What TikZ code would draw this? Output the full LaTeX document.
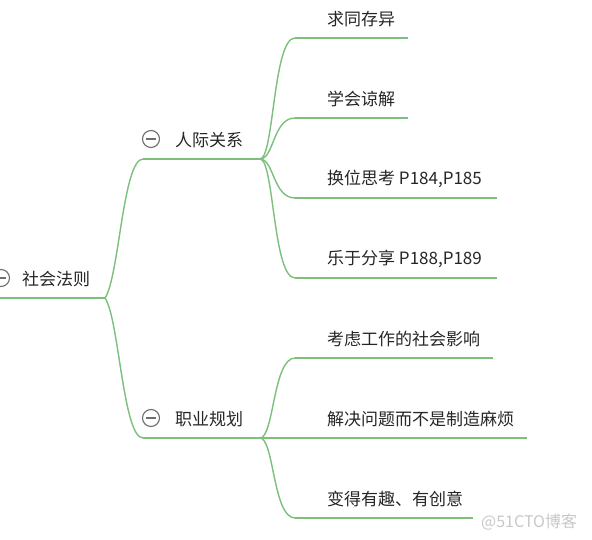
\documentclass[tikz,border=0pt]{standalone}
\usepackage{fontspec}
\setmainfont{Noto Sans CJK SC}
\definecolor{branch}{RGB}{124,192,124}
\definecolor{icon}{RGB}{110,110,110}
\definecolor{wm}{RGB}{200,200,200}
\tikzset{
  topic/.style={anchor=west,inner sep=0pt,font=\fontsize{17}{19}\selectfont,text=black!85},
  uline/.style={draw=branch,line width=1.4pt},
  conn/.style={draw=branch,line width=1.4pt},
  fold/.style={circle,draw=icon,line width=1.1pt,minimum size=17pt,inner sep=0pt,
    path picture={\draw[icon,line width=1.1pt] ([xshift=-5pt]path picture bounding box.center) -- ([xshift=5pt]path picture bounding box.center);}},
}
\begin{document}
\begin{tikzpicture}[x=1pt,y=-1pt]
\useasboundingbox[fill=white] (0,0) rectangle (592,540);
% root
\node[fold] (rooticon) at (1,278) {};
\node[topic] (root) at (22,279) {社会法则};
\coordinate (root-s) at (0,298);
\coordinate (root-e) at (105,298);
\draw[uline] (root-s) -- (root-e);
% level 1
\node[fold] (aicon) at (151,139) {};
\node[topic] (a) at (175,140) {人际关系};
\coordinate (a-s) at (143,159);
\coordinate (a-e) at (260,159);
\draw[uline] (a-s) -- (a-e);
\node[fold] (bicon) at (151,418) {};
\node[topic] (b) at (175,419) {职业规划};
\coordinate (b-s) at (143,438);
\coordinate (b-e) at (260,438);
\draw[uline] (b-s) -- (b-e);
\draw[conn] (root-e) .. controls +(14,-20) and +(-20,0) .. (a-s);
\draw[conn] (root-e) .. controls +(14,20) and +(-20,0) .. (b-s);
% children of a
\foreach \n/\y/\e/\t in {a1/38/408/求同存异, a2/118/408/学会谅解, a3/198/497/{换位思考 P184,P185}, a4/278/497/{乐于分享 P188,P189}}{
  \node[topic] (\n) at (327,\y-19) {\t};
  \coordinate (\n-s) at (295,\y);
  \coordinate (\n-e) at (\e,\y);
  \draw[uline] (\n-s) -- (\n-e);
  \draw[conn] (a-e) .. controls +(14,0) and +(-22,0) .. (\n-s);
}
% children of b
\foreach \n/\y/\e/\t in {b1/358/493/考虑工作的社会影响, b2/438/527/解决问题而不是制造麻烦, b3/518/473/{变得有趣、有创意}}{
  \node[topic] (\n) at (327,\y-19) {\t};
  \coordinate (\n-s) at (295,\y);
  \coordinate (\n-e) at (\e,\y);
  \draw[uline] (\n-s) -- (\n-e);
  \draw[conn] (b-e) .. controls +(14,0) and +(-22,0) .. (\n-s);
}
\node[anchor=west,inner sep=0pt,font=\fontsize{16}{18}\selectfont,text=wm] (wmark) at (481,522) {@51CTO博客};
\end{tikzpicture}
\end{document}
